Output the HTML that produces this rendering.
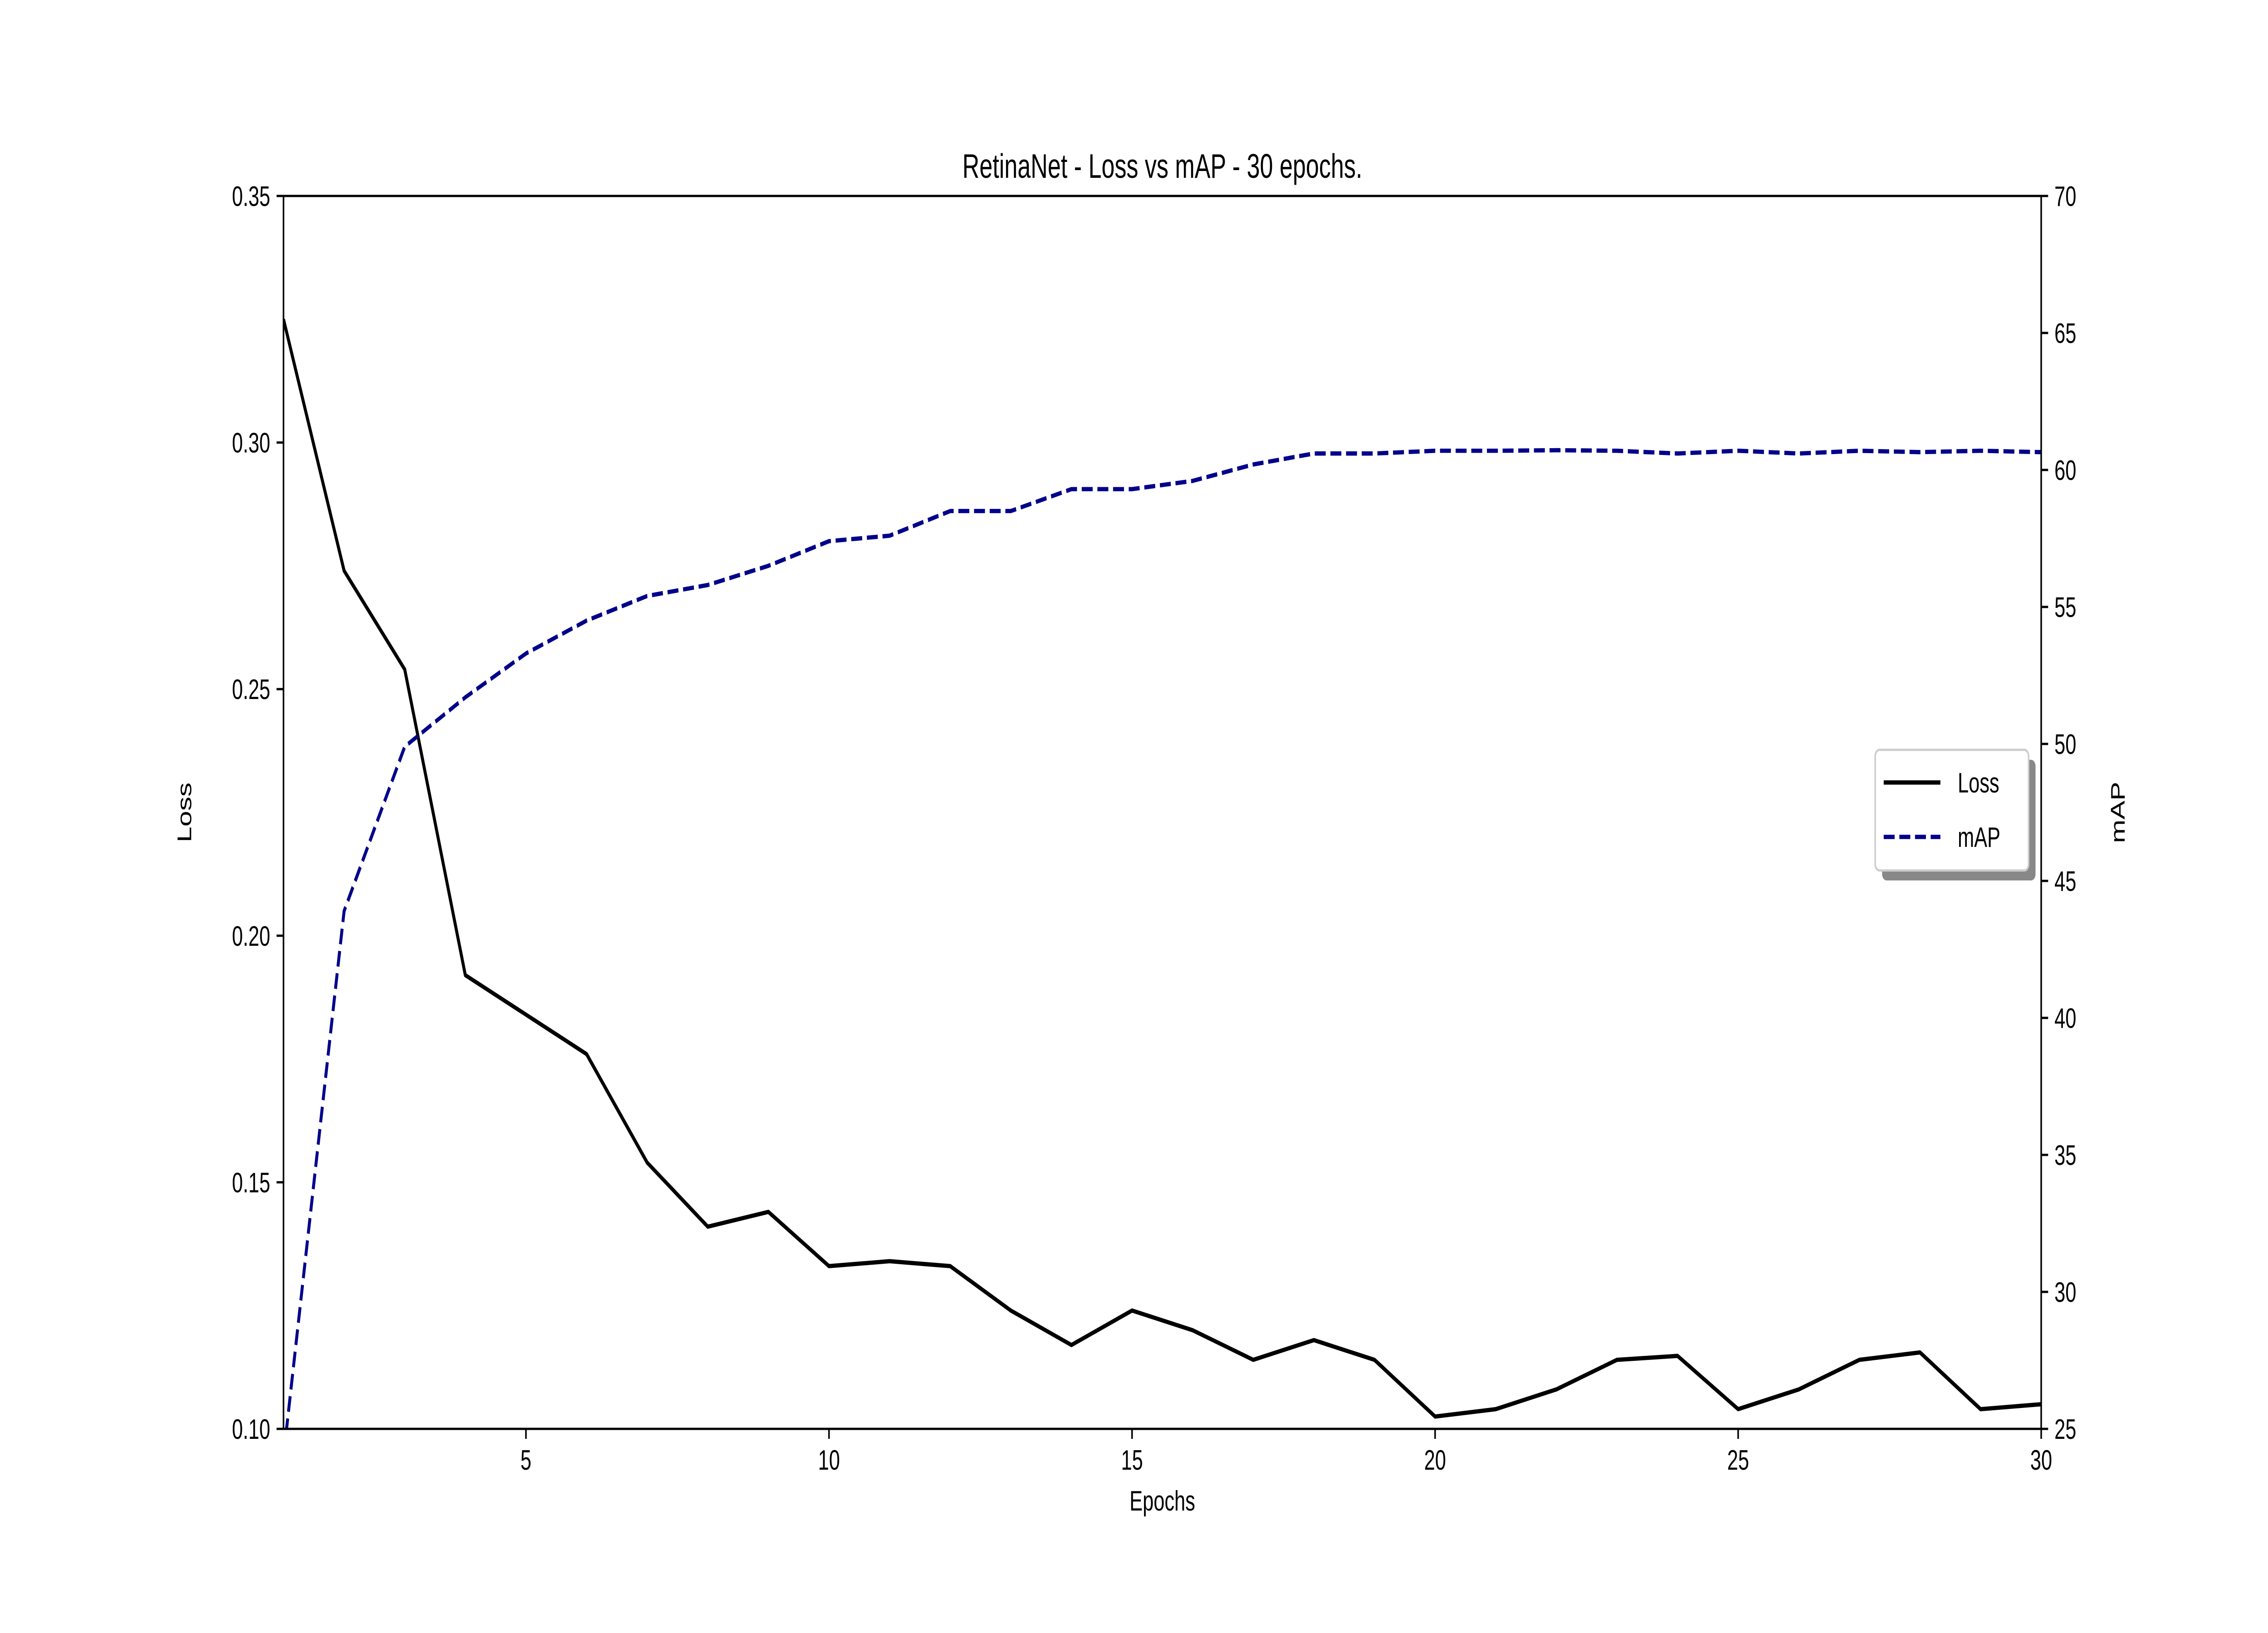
<!DOCTYPE html>
<html><head><meta charset="utf-8"><style>
html,body{margin:0;padding:0;background:#fff;overflow:hidden;width:100%;height:100%}
svg{display:block;width:100vw;height:100vh}
text{font-family:"Liberation Sans","DejaVu Sans",sans-serif}
</style></head><body>
<svg id="chart" viewBox="0 0 7200 3600" preserveAspectRatio="none" xmlns="http://www.w3.org/2000/svg">
<defs><clipPath id="clip"><rect x="900" y="432" width="5580" height="2718"/></clipPath></defs>
<g id="g"></g>
</svg>
<script>
const epochs=[1,2,3,4,5,6,7,8,9,10,11,12,13,14,15,16,17,18,19,20,21,22,23,24,25,26,27,28,29,30];
const lossValues=[0.325,0.274,0.254,0.192,0.184,0.176,0.154,0.141,0.144,0.133,0.134,0.133,0.124,0.117,0.124,0.120,0.114,0.118,0.114,0.1025,0.104,0.108,0.114,0.1148,0.104,0.108,0.114,0.1155,0.104,0.105];
const mapValues=[24,43.9,49.9,51.7,53.3,54.5,55.4,55.8,56.5,57.4,57.6,58.5,58.5,59.3,59.3,59.6,60.2,60.6,60.6,60.7,60.7,60.72,60.7,60.6,60.7,60.6,60.7,60.65,60.7,60.65];
const xTicks=[5,10,15,20,25,30];
const lossTicks=[0.10,0.15,0.20,0.25,0.30,0.35];
const mapTicks=[25,30,35,40,45,50,55,60,65,70];
const L=900,R=6480,T=432,B=3150;
const NS="http://www.w3.org/2000/svg";
const g=document.getElementById('g');
const X=v=>L+(v-1)/(30-1)*(R-L);
const YL=v=>B-(v-0.10)/(0.35-0.10)*(B-T);
const YR=v=>B-(v-25)/(70-25)*(B-T);
function mk(tag,attrs,parent){const e=document.createElementNS(NS,tag);for(const k in attrs)e.setAttribute(k,attrs[k]);(parent||g).appendChild(e);return e;}
function txt(s,attrs){const e=mk('text',attrs);e.textContent=s;return e;}
let p=mk('polyline',{points:epochs.map((e,i)=>X(e)+','+YL(lossValues[i])).join(' '),fill:'none',stroke:'#000','stroke-width':9.4,'stroke-linejoin':'round','clip-path':'url(#clip)'});


p=mk('polyline',{points:epochs.map((e,i)=>X(e)+','+YR(mapValues[i])).join(' '),fill:'none',stroke:'#00008b','stroke-width':9.4,'stroke-dasharray':'34.7 15','stroke-linejoin':'round','clip-path':'url(#clip)'});


let f=mk('rect',{x:L,y:T,width:R-L,height:B-T,fill:'none',stroke:'#000','stroke-width':5});


xTicks.forEach(v=>{mk('line',{x1:X(v),x2:X(v),y1:B,y2:B+22,stroke:'#000','stroke-width':5});
 const t=txt(String(v),{x:X(v),y:B+90,'font-size':62.5,'text-anchor':'middle'});
 
 });
lossTicks.forEach(v=>{mk('line',{x1:L,x2:L-22,y1:YL(v),y2:YL(v),stroke:'#000','stroke-width':5});
 const t=txt(v.toFixed(2),{x:L-42,y:YL(v)+22,'font-size':62.5,'text-anchor':'end'});
 
 });
mapTicks.forEach(v=>{mk('line',{x1:R,x2:R+22,y1:YR(v),y2:YR(v),stroke:'#000','stroke-width':5});
 const t=txt(String(v),{x:R+42,y:YR(v)+22,'font-size':62.5,'text-anchor':'start'});
 
 });
let t=txt('RetinaNet - Loss vs mAP - 30 epochs.',{x:(L+R)/2,y:T-40,'font-size':75,'text-anchor':'middle'});


t=txt('Epochs',{x:(L+R)/2,y:B+180,'font-size':62.5,'text-anchor':'middle'});


t=txt('Loss',{x:0,y:0,'font-size':62.5,'text-anchor':'middle',transform:`translate(607,${(T+B)/2}) rotate(-90)`});


t=txt('mAP',{x:0,y:0,'font-size':62.5,'text-anchor':'middle',transform:`translate(6745,${(T+B)/2}) rotate(-90)`});


const lg=mk('g',{});


mk('rect',{x:5975,y:1675,width:487,height:266,rx:14,fill:'#888'},lg);
mk('rect',{x:5953,y:1653,width:487,height:266,rx:14,fill:'#fff',stroke:'#ccc','stroke-width':5},lg);
mk('line',{x1:5980,x2:6160,y1:1725,y2:1725,stroke:'#000','stroke-width':9.4},lg);
mk('line',{x1:5980,x2:6160,y1:1845,y2:1845,stroke:'#00008b','stroke-width':9.4,'stroke-dasharray':'34.7 15'},lg);
t=txt('Loss',{x:6215,y:1747,'font-size':62.5});


t=txt('mAP',{x:6215,y:1867,'font-size':62.5});


</script>
</body></html>
